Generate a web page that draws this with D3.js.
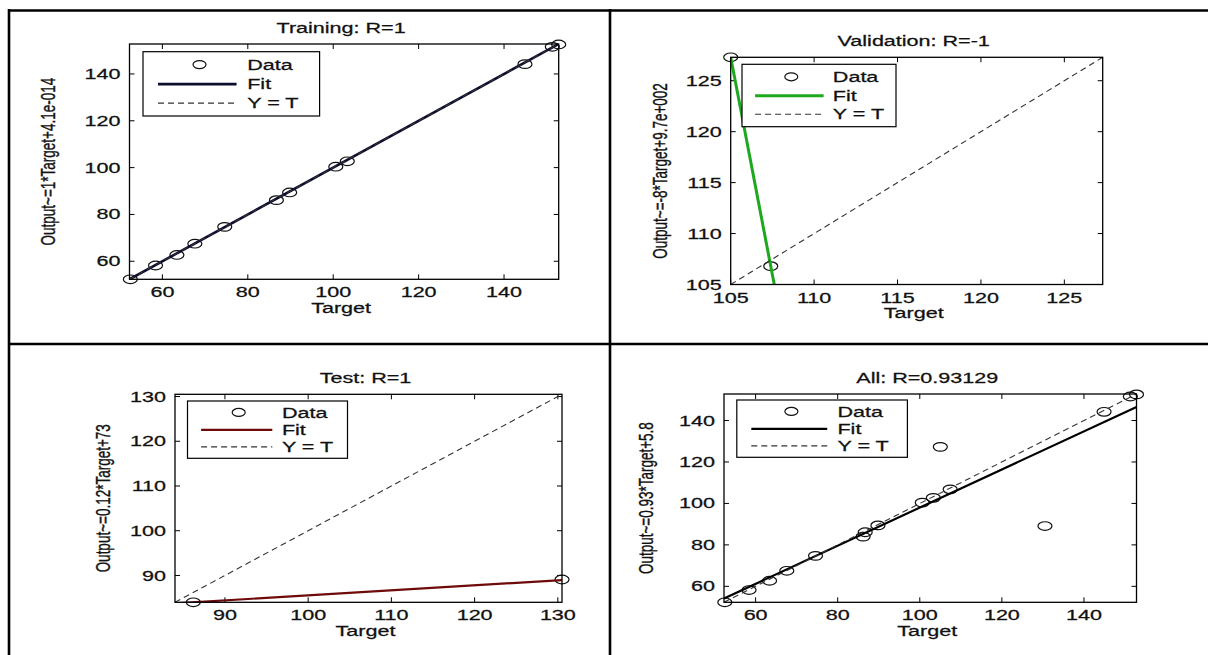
<!DOCTYPE html>
<html>
<head>
<meta charset="utf-8">
<script src="https://cdn.jsdelivr.net/npm/d3@7"></script>
<style>
	body { margin: 0; background: #fff; }
	svg text { font-family: "Liberation Sans", Arial, sans-serif; fill: #111; stroke: #111; stroke-width: 0.25px; }
</style>
</head>
<body>
<svg id="viz-regression" width="1208" height="655"></svg>
<script>

// values
var trainTarget = [ 52.5, 58.4, 63.4, 67.6, 74.6, 86.7, 89.8, 100.6, 103.3, 144.9, 151.3, 152.8 ];
var trainOutput = [ 52.3, 58.2, 62.7, 67.5, 74.7, 86.1, 89.4, 100.4, 102.7, 144.2, 151.6, 152.6 ];

var valTarget = [ 105.0, 107.4 ];
var valOutput = [ 127.3, 106.8 ];

var testTarget = [ 86.2, 130.5 ];
var testOutput = [ 84.0, 89.1 ];

// fit lines: [slope, intercept]
var trainFit = [ 1, 0 ];
var valFit = [ -8.54, 1024 ];
var testFit = [ 0.112, 74.35 ];
var allFit = [ 0.92, 6.0 ];

var titles = [ 'Training: R=1', 'Validation: R=-1', 'Test: R=1', 'All: R=0.93129' ];
var yLabels = [
	'Output~=1*Target+4.1e-014',
	'Output~=-8*Target+9.7e+002',
	'Output~=0.12*Target+73',
	'Output~=0.93*Target+5.8'
];
var legendLabels = [ 'Data', 'Fit', 'Y = T' ];

var trainTicks = [ 60, 80, 100, 120, 140 ];
var valTicks = [ 105, 110, 115, 120, 125 ];
var testTicks = [ 90, 100, 110, 120, 130 ];
var allTicks = [ 60, 80, 100, 120, 140 ];

// the source picture is stretched sideways, so is its text
var SX = 1.54;

var svg = d3.select( '#viz-regression' );

var panels = [
	{ t: trainTarget, y: trainOutput, fit: trainFit, ticks: trainTicks, color: '#0d0d2e', fitW: 2.6,
		box: { left: 129.5, right: 558.7, top: 44, bottom: 279.3 }, ylabX: 48,
		legend: { dx: 13.5, dy: 7.7, w: 176.6, h: 64.3 } },
	{ t: valTarget, y: valOutput, fit: valFit, ticks: valTicks, color: '#1ea81e', fitW: 3,
		box: { left: 730.7, right: 1102.7, top: 57.3, bottom: 284.5 }, ylabX: 660,
		legend: { dx: 11.3, dy: 7, w: 154, h: 62.4 } },
	{ t: testTarget, y: testOutput, fit: testFit, ticks: testTicks, color: '#6e0a0a', fitW: 2.2,
		box: { left: 175, right: 562, top: 394.3, bottom: 602.3 }, ylabX: 103,
		legend: { dx: 12.5, dy: 6.7, w: 160, h: 57.3 } },
	{ t: trainTarget.concat( valTarget, testTarget ), y: trainOutput.concat( valOutput, testOutput ),
		fit: allFit, ticks: allTicks, color: '#000', fitW: 2.2,
		box: { left: 724, right: 1136.5, top: 394, bottom: 602.3 }, ylabX: 646,
		legend: { dx: 12.8, dy: 6, w: 170.6, h: 57.3 } }
];

var stretchText = function ( sel, x, y, rot ) {
	return sel.attr( 'transform', 'translate(' + x + ',' + y + ') scale(' + SX + ',1)' + ( rot ? ' rotate(-90)' : '' ) );
};

panels.forEach( function ( p, i ) {

	var b = p.box;
	var all = p.t.concat( p.y );
	var lim = [ d3.min( all ), d3.max( all ) ];

	var x = d3.scaleLinear().domain( lim ).range( [ b.left, b.right ] );
	var y = d3.scaleLinear().domain( lim ).range( [ b.bottom, b.top ] );

	var g = svg.append( 'g' ).classed( 'panel', true );

	g.append( 'clipPath' )
		.attr( 'id', 'clip-' + i )
		.append( 'rect' )
		.attr( 'x', b.left ).attr( 'y', b.top )
		.attr( 'width', b.right - b.left ).attr( 'height', b.bottom - b.top );

	// ticks on all four sides, pointing inwards
	var tk = 5;
	p.ticks.forEach( function ( v ) {
		g.append( 'line' ).attr( 'x1', x( v ) ).attr( 'x2', x( v ) ).attr( 'y1', b.bottom ).attr( 'y2', b.bottom - tk );
		g.append( 'line' ).attr( 'x1', x( v ) ).attr( 'x2', x( v ) ).attr( 'y1', b.top ).attr( 'y2', b.top + tk );
		g.append( 'line' ).attr( 'y1', y( v ) ).attr( 'y2', y( v ) ).attr( 'x1', b.left ).attr( 'x2', b.left + tk );
		g.append( 'line' ).attr( 'y1', y( v ) ).attr( 'y2', y( v ) ).attr( 'x1', b.right ).attr( 'x2', b.right - tk );

		stretchText( g.append( 'text' ), x( v ), b.bottom + 18, false )
			.attr( 'text-anchor', 'middle' )
			.style( 'font-size', '14px' )
			.text( v );

		stretchText( g.append( 'text' ), b.left - 9, y( v ), false )
			.attr( 'text-anchor', 'end' )
			.attr( 'dy', '0.36em' )
			.style( 'font-size', '14px' )
			.text( v );
	} );
	g.selectAll( 'line' ).attr( 'stroke', '#000' ).attr( 'stroke-width', 1 );

	// data markers
	g.selectAll( 'ellipse.pt' )
		.data( p.t.map( function ( d, k ) { return [ d, p.y[k] ]; } ) )
		.enter()
		.append( 'ellipse' )
		.classed( 'pt', true )
		.attr( 'cx', function ( d ) { return x( d[0] ); } )
		.attr( 'cy', function ( d ) { return y( d[1] ); } )
		.attr( 'rx', 7 )
		.attr( 'ry', 4.3 )
		.attr( 'fill', 'none' )
		.attr( 'stroke', '#111' )
		.attr( 'stroke-width', 1.2 );

	// fit line over the whole x range, clipped to the axes
	var line = d3.line()
		.x( function ( d ) { return x( d ); } )
		.y( function ( d ) { return y( p.fit[0] * d + p.fit[1] ); } );

	g.append( 'path' )
		.datum( lim )
		.attr( 'clip-path', 'url(#clip-' + i + ')' )
		.attr( 'd', line )
		.attr( 'fill', 'none' )
		.attr( 'stroke', p.color )
		.attr( 'stroke-width', p.fitW );

	// Y = T
	g.append( 'line' )
		.attr( 'x1', x( lim[0] ) ).attr( 'y1', y( lim[0] ) )
		.attr( 'x2', x( lim[1] ) ).attr( 'y2', y( lim[1] ) )
		.attr( 'stroke', '#333' )
		.attr( 'stroke-width', 1.1 )
		.attr( 'stroke-dasharray', '6,4' );

	// axes box
	g.append( 'rect' )
		.attr( 'x', b.left ).attr( 'y', b.top )
		.attr( 'width', b.right - b.left ).attr( 'height', b.bottom - b.top )
		.attr( 'fill', 'none' )
		.attr( 'stroke', '#000' )
		.attr( 'stroke-width', 1.3 );

	var cx = ( b.left + b.right ) / 2 - 3;

	stretchText( g.append( 'text' ), cx, b.top - 11, false )
		.attr( 'text-anchor', 'middle' )
		.style( 'font-size', '14px' )
		.text( titles[i] );

	stretchText( g.append( 'text' ), cx, b.bottom + 33.5, false )
		.attr( 'text-anchor', 'middle' )
		.style( 'font-size', '14px' )
		.text( 'Target' );

	stretchText( g.append( 'text' ), p.ylabX, ( b.top + b.bottom ) / 2, true )
		.attr( 'text-anchor', 'middle' )
		.attr( 'dy', '0.36em' )
		.style( 'font-size', '13.5px' )
		.text( yLabels[i] );

	// legend
	var L = p.legend;
	var lg = g.append( 'g' )
		.attr( 'transform', 'translate(' + ( b.left + L.dx ) + ',' + ( b.top + L.dy ) + ')' );

	lg.append( 'rect' )
		.attr( 'width', L.w ).attr( 'height', L.h )
		.attr( 'fill', '#fff' )
		.attr( 'stroke', '#000' )
		.attr( 'stroke-width', 1.2 );

	var rows = [ 0.2, 0.505, 0.8 ];

	lg.append( 'ellipse' )
		.attr( 'cx', L.w * 0.32 ).attr( 'cy', L.h * rows[0] )
		.attr( 'rx', 6.5 ).attr( 'ry', 4 )
		.attr( 'fill', 'none' ).attr( 'stroke', '#111' ).attr( 'stroke-width', 1.2 );

	lg.append( 'line' )
		.attr( 'x1', L.w * 0.085 ).attr( 'x2', L.w * 0.53 )
		.attr( 'y1', L.h * rows[1] ).attr( 'y2', L.h * rows[1] )
		.attr( 'stroke', p.color ).attr( 'stroke-width', p.fitW );

	lg.append( 'line' )
		.attr( 'x1', L.w * 0.085 ).attr( 'x2', L.w * 0.53 )
		.attr( 'y1', L.h * rows[2] ).attr( 'y2', L.h * rows[2] )
		.attr( 'stroke', '#333' ).attr( 'stroke-width', 1.1 )
		.attr( 'stroke-dasharray', '6,4' );

	legendLabels.forEach( function ( lab, k ) {
		stretchText( lg.append( 'text' ), L.w * 0.59, L.h * rows[k], false )
			.attr( 'dy', '0.36em' )
			.style( 'font-size', '14px' )
			.text( lab );
	} );

} );

// table rules around the four panels
var rules = [
	[ 8, 10.5, 1208, 10.5 ],
	[ 8, 344, 1208, 344 ],
	[ 9, 9, 9, 655 ],
	[ 610, 9, 610, 655 ]
];
svg.selectAll( 'line.rule' )
	.data( rules )
	.enter()
	.append( 'line' )
	.classed( 'rule', true )
	.attr( 'x1', function ( d ) { return d[0]; } )
	.attr( 'y1', function ( d ) { return d[1]; } )
	.attr( 'x2', function ( d ) { return d[2]; } )
	.attr( 'y2', function ( d ) { return d[3]; } )
	.attr( 'stroke', '#000' )
	.attr( 'stroke-width', 2.6 );

</script>
</body>
</html>
